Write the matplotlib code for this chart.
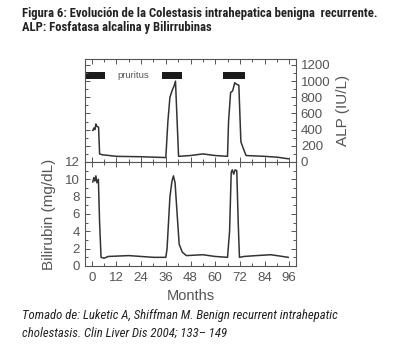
import matplotlib
matplotlib.use("Agg")
import matplotlib.pyplot as plt
from matplotlib.ticker import MultipleLocator

# ---- data ----
alp_months = [0.5, 1.0, 1.5, 2.0, 2.5, 3.3, 3.8, 5, 12, 24, 30, 36, 37.0, 38, 39, 40, 40.7, 41.5, 42.2,
              48, 54, 60, 66, 66.5, 67.5, 68.5, 69.5, 70.5, 71.5, 72.5, 73.5, 75, 84, 90, 95.5]
alp_values = [390, 420, 400, 470, 440, 430, 100, 90, 70, 65, 60, 55, 500, 800, 880, 940, 1000, 500, 70,
              80, 100, 80, 70, 500, 860, 880, 980, 960, 950, 250, 180, 80, 70, 60, 40]

bili_months = [0.5, 1.0, 1.5, 2.0, 2.5, 3.2, 3.8, 4.5, 6, 8, 18, 30, 36, 36.6, 38, 39, 39.7, 40.5, 41.5,
               42.5, 44, 46, 54, 60, 66, 67, 67.8, 68.3, 69, 69.7, 70.5, 71.2, 71.8, 74, 80, 87, 90, 95.5]
bili_values = [9.7, 10.2, 9.8, 10.4, 9.6, 10.0, 5, 1.0, 0.9, 1.1, 1.2, 1.0, 1.0, 2, 8, 9.8, 10.4, 9.6, 6,
               2.5, 1.6, 1.2, 1.3, 1.1, 1.0, 4, 10.8, 11.1, 10.6, 11.1, 11.0, 5, 1.0, 1.1, 1.2, 1.3, 1.2, 1.0]

pruritus_start = [-3.3, 34.1, 63.9]
pruritus_end = [6.5, 43.9, 74.3]
pruritus_low, pruritus_high = 1025, 1110

x_ticks = [0, 12, 24, 36, 48, 60, 72, 84, 96]
alp_ticks = [0, 200, 400, 600, 800, 1000, 1200]
bili_ticks = [0, 2, 4, 6, 8, 10, 12]

title_lines = ["Figura 6: Evolución de la Colestasis intrahepatica benigna  recurrente.",
               "ALP: Fosfatasa alcalina y Bilirrubinas"]
caption_lines = ["Tomado de: Luketic A, Shiffman M. Benign recurrent intrahepatic",
                 "cholestasis. Clin Liver Dis 2004; 133– 149"]

narrow = ['Roboto Condensed', 'Liberation Sans Narrow', 'Liberation Sans', 'DejaVu Sans']
sans = ['Liberation Sans', 'DejaVu Sans']
line_col = '#333333'
text_col = '#555555'

plt.rcParams['font.family'] = sans

fig = plt.figure(figsize=(4.0, 3.52), dpi=100)
W, H = 400, 352
left, right = 85 / W, 296 / W
ax1 = fig.add_axes([left, 1 - 162 / H, right - left, (162 - 59) / H])
ax2 = fig.add_axes([left, 1 - 266 / H, right - left, (266 - 162) / H], sharex=ax1)

for ax in (ax1, ax2):
    ax.set_xlim(-3.3, 99.3)
    ax.xaxis.set_major_locator(MultipleLocator(12))
    ax.xaxis.set_minor_locator(MultipleLocator(6))
    for s in ax.spines.values():
        s.set_color('#555555')
        s.set_linewidth(0.8)
    ax.tick_params(which='both', direction='in', top=True, right=True, left=True, bottom=True,
                   colors='#555555', labelcolor=text_col, labelsize=9.5, width=0.7)
    ax.tick_params(which='major', length=3.5)
    ax.tick_params(which='minor', length=2)

# top: ALP
ax1.plot(alp_months, alp_values, color=line_col, lw=1.1)
for s, e in zip(pruritus_start, pruritus_end):
    ax1.fill_between([s, e], pruritus_low, pruritus_high, color='#1a1a1a', lw=0)
ax1.text(20, (pruritus_low + pruritus_high) / 2, 'pruritus', ha='center', va='center',
         fontsize=6.8, color='#555555')
ax1.set_ylim(0, 1274)
ax1.set_yticks(alp_ticks)
ax1.yaxis.set_minor_locator(MultipleLocator(100))
ax1.tick_params(axis='y', labelleft=False, labelright=True)
ax1.tick_params(axis='x', labelbottom=False)
ax1.yaxis.set_label_position('right')
ax1.set_ylabel('ALP (IU/L)', fontsize=11, color=text_col, labelpad=4)

# bottom: bilirubin
ax2.plot(bili_months, bili_values, color=line_col, lw=1.1)
ax2.set_ylim(0, 12)
ax2.set_yticks(bili_ticks)
ax2.yaxis.set_minor_locator(MultipleLocator(1))
ax2.set_xticks(x_ticks)
ax2.tick_params(axis='x', pad=4)
ax2.set_ylabel('Bilirubin (mg/dL)', fontsize=11, color=text_col, labelpad=7)
ax2.set_xlabel('Months', fontsize=10.5, color=text_col, labelpad=4)

renderer = fig.canvas.get_renderer()


def fitted_lines(lines, ys, target_w, **kw):
    texts = [fig.text(22 / W, 1 - y / H, t, ha='left', va='center', fontsize=9,
                      family=narrow, color='#222222', **kw) for t, y in zip(lines, ys)]
    w = texts[0].get_window_extent(renderer).width
    fs = 9 * target_w / w
    for t in texts:
        t.set_fontsize(fs)
    return texts


fitted_lines(title_lines, [13, 27], 355, fontweight='bold')
fitted_lines(caption_lines, [316, 333], 316, style='italic')

fig.savefig('out.png', dpi=100, facecolor='white')
